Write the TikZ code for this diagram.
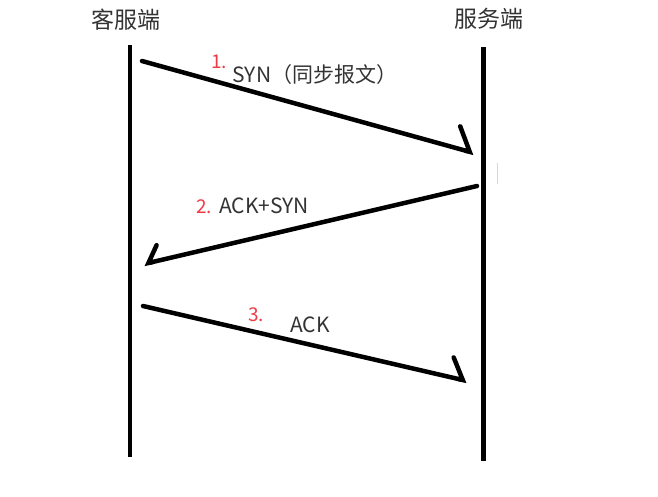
\documentclass[tikz,border=0pt]{standalone}
\usepackage{fontspec}
\setmainfont{Noto Sans CJK SC}
\usepackage{xcolor}
\definecolor{cText}{HTML}{333333}
\definecolor{cRed}{HTML}{EE3B45}
\definecolor{cPink}{HTML}{F6C9CC}
\usetikzlibrary{positioning,arrows.meta}
\tikzset{
  node-head/.style={text=cText,font=\fontsize{23}{25}\selectfont,inner sep=0pt},
  node-msg/.style={text=cText,font=\fontsize{21}{23}\selectfont,inner sep=0pt},
  node-num/.style={text=cRed,font=\fontsize{19}{21}\selectfont,inner sep=0pt},
  lifeline/.style={line width=4.5pt,draw=black},
  arrow-msg/.style={line width=4.5pt,draw=black,line cap=round,line join=round},
}

\begin{document}
\begin{tikzpicture}[x=1pt,y=-1pt]
  \useasboundingbox (0,0) rectangle (658,496);
  % 两条生命线
  \node[node-head] (client) at (126,20) {客服端};
  \node[node-head] (server) at (489,19) {服务端};
  \coordinate (c-top) at (130,45);  \coordinate (c-bot) at (130,457);
  \coordinate (s-top) at (483.5,47);\coordinate (s-bot) at (483.5,461);
  \draw[lifeline] (c-top) -- (c-bot);
  \draw[lifeline] (s-top) -- (s-bot);
  % 三次握手
  \coordinate (m1-a) at (142,61);  \coordinate (m1-b) at (474,153);
  \coordinate (m2-a) at (477,186); \coordinate (m2-b) at (144,264);
  \coordinate (m3-a) at (143,306); \coordinate (m3-b) at (467,381);
  \draw[arrow-msg,-{Straight Barb[left,length=16pt,width=44pt,line cap=round]}]  (m1-a) -- (m1-b);
  \draw[arrow-msg,-{Straight Barb[right,length=12pt,width=31pt,line cap=round]}] (m2-a) -- (m2-b);
  \draw[arrow-msg,-{Straight Barb[left,length=14pt,width=40pt,line cap=round]}]  (m3-a) -- (m3-b);
  \node[node-num] (n1) at (219,62)  {1.};
  \node[node-msg] (t1) at (315,75)  {SYN（同步报文）};
  \node[node-num] (n2) at (204,207) {2.};
  \node[node-msg] (t2) at (264,206) {ACK+SYN};
  \node[node-num] (n3) at (256,315) {3.};
  \node[node-msg] (t3) at (310,325) {ACK};
  \coordinate (mk-a) at (497,163); \coordinate (mk-b) at (497,184);
  \draw[cPink,line width=0.8pt] (mk-a) -- (mk-b);
\end{tikzpicture}
\end{document}
